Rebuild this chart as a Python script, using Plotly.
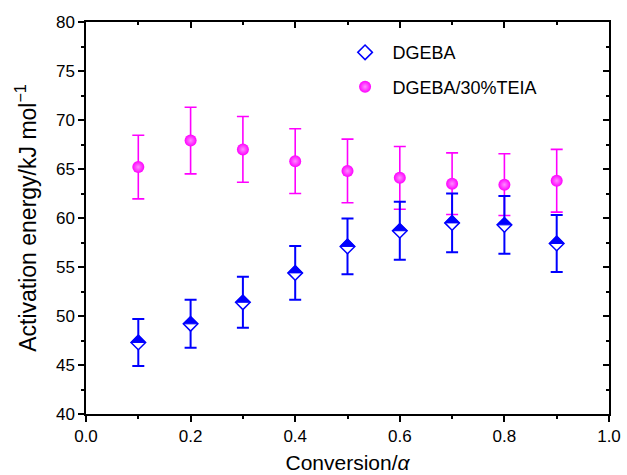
import plotly.graph_objects as go

# Conversion levels and apparent activation energies (kJ/mol) with error bars
conversion = [0.1, 0.2, 0.3, 0.4, 0.5, 0.6, 0.7, 0.8, 0.9]
ea_dgeba = [47.3, 49.2, 51.4, 54.4, 57.1, 58.7, 59.5, 59.3, 57.4]
err_dgeba = [2.4, 2.45, 2.6, 2.75, 2.85, 2.95, 3.0, 2.95, 2.9]
ea_teia = [65.2, 67.9, 67.0, 65.8, 64.8, 64.1, 63.5, 63.4, 63.8]
err_teia = [3.25, 3.4, 3.35, 3.3, 3.25, 3.2, 3.15, 3.15, 3.2]

x_ticks = [0.0, 0.2, 0.4, 0.6, 0.8, 1.0]
y_ticks = [40, 45, 50, 55, 60, 65, 70, 75, 80]

BLUE = "#0000ff"
MAGENTA = "#ff00ff"
FONT = "Liberation Sans, Arial, sans-serif"

W, H = 627, 475
M = dict(l=86, r=18, t=22, b=61)
Y_RANGE = [40, 80]
X_RANGE = [0, 1.0]

# Half-filled diamond marker: a white diamond with a blue outline, topped by a
# filled triangle covering its upper half. The triangle is a filled path whose
# corners are placed DIAMOND_HALF pixels from each point via the axis scales.
DIAMOND_HALF = 7.3  # px
plot_w = W - M["l"] - M["r"]
plot_h = H - M["t"] - M["b"]
dx = DIAMOND_HALF * (X_RANGE[1] - X_RANGE[0]) / plot_w
dy = DIAMOND_HALF * (Y_RANGE[1] - Y_RANGE[0]) / plot_h

tri_x, tri_y = [], []
for cx, cy in zip(conversion, ea_dgeba):
    tri_x += [cx - dx, cx, cx + dx, cx - dx, None]
    tri_y += [cy, cy + dy, cy, cy, None]

fig = go.Figure()

fig.add_trace(go.Scatter(
    x=conversion, y=ea_teia, mode="markers", name="DGEBA/30%TEIA",
    legendrank=2, legendgroup="b",
    marker=dict(symbol="circle", size=12, color=MAGENTA,
                line=dict(width=0),
                gradient=dict(type="radial", color="#ff8cff")),
    error_y=dict(type="data", array=err_teia, visible=True,
                 color=MAGENTA, thickness=1.6, width=6),
))

fig.add_trace(go.Scatter(
    x=conversion, y=ea_dgeba, mode="markers", name="DGEBA",
    legendrank=1, legendgroup="a",
    marker=dict(symbol="diamond", size=2 * DIAMOND_HALF / 1.3, color="white",
                line=dict(color=BLUE, width=1.5)),
    error_y=dict(type="data", array=err_dgeba, visible=True,
                 color=BLUE, thickness=2, width=6),
))

fig.add_trace(go.Scatter(
    x=tri_x, y=tri_y, mode="lines", fill="toself", fillcolor=BLUE,
    line=dict(color=BLUE, width=1), showlegend=False, hoverinfo="skip",
))

axis_common = dict(showline=True, linecolor="black", linewidth=1.5,
                   showgrid=False, zeroline=False, automargin=False)
tick_font = dict(size=17)

fig.update_layout(
    width=W, height=H, margin=M,
    paper_bgcolor="white", plot_bgcolor="white",
    font=dict(family=FONT, size=17, color="black"),
    xaxis=dict(range=X_RANGE, tickvals=x_ticks, ticktext=[f"{v:.1f}" for v in x_ticks],
               ticks="outside", ticklen=6, tickwidth=1.5, tickcolor="black",
               tickfont=tick_font,
               minor=dict(dtick=0.1, ticks="outside", ticklen=3, tickwidth=1.5,
                          tickcolor="black"),
               title=dict(text="Conversion/<i>α</i>", font=dict(size=21), standoff=10),
               **axis_common),
    yaxis=dict(range=Y_RANGE, tickvals=y_ticks,
               ticks="outside", ticklen=6, tickwidth=1.5, tickcolor="black",
               tickfont=tick_font,
               minor=dict(dtick=2.5, ticks="outside", ticklen=3, tickwidth=1.5,
                          tickcolor="black"),
               title=dict(text="Activation energy/kJ mol<sup>−1</sup>",
                          font=dict(size=23), standoff=13),
               **axis_common),
    xaxis2=dict(range=X_RANGE, overlaying="x", side="top", tickvals=x_ticks,
                showticklabels=False, ticks="inside", ticklen=6, tickwidth=1.5,
                tickcolor="black",
                minor=dict(dtick=0.1, ticks="inside", ticklen=3, tickwidth=1.5,
                           tickcolor="black"),
                **axis_common),
    yaxis2=dict(range=Y_RANGE, overlaying="y", side="right", tickvals=y_ticks,
                showticklabels=False, ticks="inside", ticklen=6, tickwidth=1.5,
                tickcolor="black",
                minor=dict(dtick=2.5, ticks="inside", ticklen=3, tickwidth=1.5,
                           tickcolor="black"),
                **axis_common),
    legend=dict(x=0.481, y=0.969, xanchor="left", yanchor="top",
                bgcolor="rgba(0,0,0,0)", borderwidth=0,
                font=dict(size=18), itemwidth=45, tracegroupgap=8,
                traceorder="grouped"),
    showlegend=True,
)

# empty trace that brings up the mirrored top/right axes
fig.add_trace(go.Scatter(x=[None], y=[None], xaxis="x2", yaxis="y2",
                         showlegend=False, hoverinfo="skip"))

fig.write_html("out.html")
